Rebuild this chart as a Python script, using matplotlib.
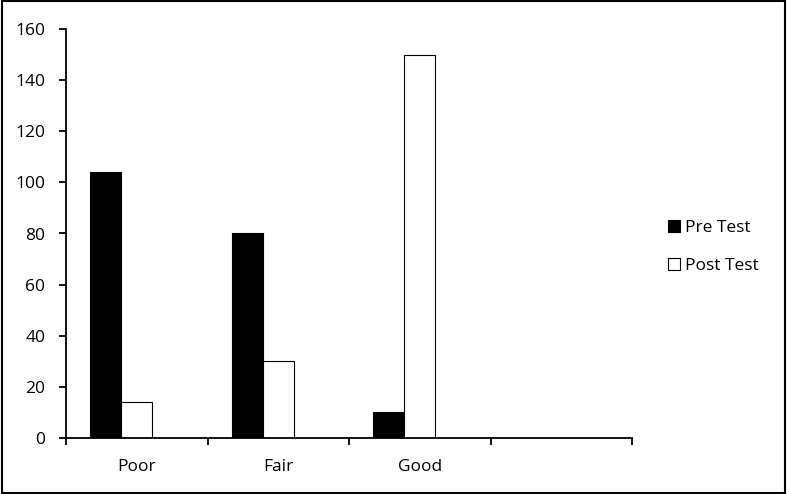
import matplotlib.pyplot as plt
from matplotlib.patches import Rectangle

categories = ['Poor', 'Fair', 'Good', '']
pre_test = [104, 80, 10, 0]
post_test = [14, 30, 150, 0]

plt.rcParams['font.family'] = ['Open Sans', 'DejaVu Sans']

fig = plt.figure(figsize=(7.87, 4.94), dpi=100)
ax = fig.add_axes([66 / 787, 56 / 494, (632 - 66) / 787, (438 - 29) / 494])

x = list(range(len(categories)))
w = 0.22
ax.bar([i - w for i in x], pre_test, width=w, color='black', edgecolor='black',
       linewidth=0.8, label='Pre Test')
ax.bar(x, post_test, width=w, color='white', edgecolor='black',
       linewidth=0.8, label='Post Test')

ax.set_xlim(-0.5, len(categories) - 0.5)
ax.set_ylim(0, 160)
ax.set_yticks(range(0, 161, 20))
ax.set_xticks(x)
ax.set_xticklabels(categories)
ax.set_xticks([i - 0.5 for i in range(len(categories) + 1)], minor=True)
ax.tick_params(axis='x', which='major', length=0, pad=15, labelsize=12.5)
ax.tick_params(axis='x', which='minor', length=5, width=1.3, direction='out')
ax.tick_params(axis='y', length=5, width=1.3, labelsize=12.5, pad=10)

for s in ['top', 'right']:
    ax.spines[s].set_visible(False)
for s in ['left', 'bottom']:
    ax.spines[s].set_linewidth(1.3)

fig.legend(loc='center left', bbox_to_anchor=(652 / 787, 1 - 247 / 494), frameon=False,
           fontsize=12.5, handlelength=0.7, handleheight=0.7, handletextpad=0.3,
           labelspacing=1.3)

fig.patches.append(Rectangle((0.002, 0.003), 0.996, 0.994, transform=fig.transFigure,
                             fill=False, edgecolor='black', linewidth=1.5))

fig.savefig('out.png', dpi=100)
